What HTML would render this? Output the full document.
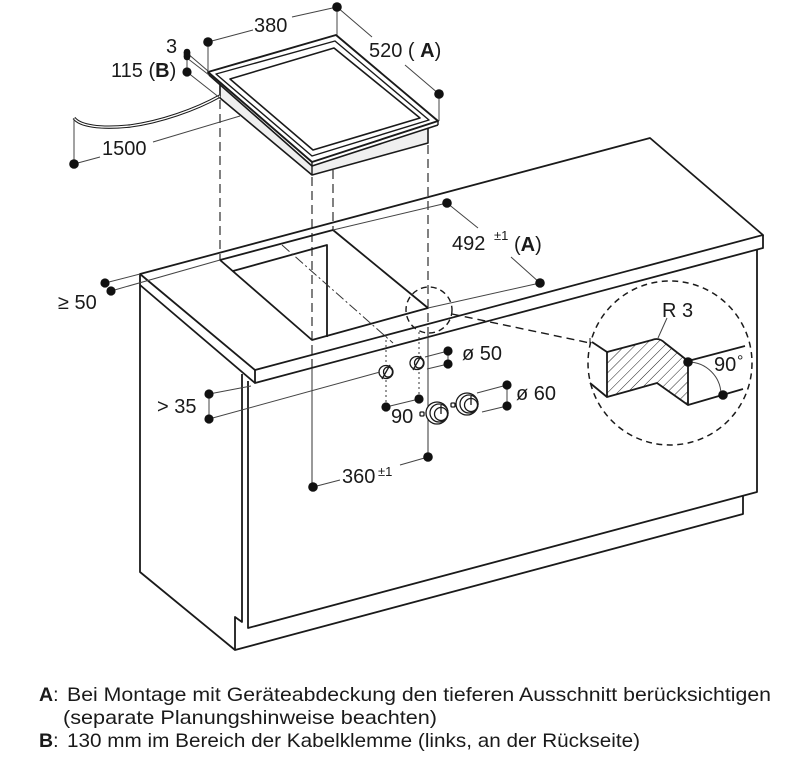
<!DOCTYPE html>
<html><head><meta charset="utf-8"><style>
html,body{margin:0;padding:0;background:#fff;}
svg{display:block;}
text{font-family:"Liberation Sans",Arial,sans-serif;fill:#1a1a1a;}
</style></head><body>
<svg width="795" height="761" viewBox="0 0 795 761" xmlns="http://www.w3.org/2000/svg">
<defs>
<pattern id="h" width="7" height="7" patternUnits="userSpaceOnUse" patternTransform="rotate(45)">
<line x1="0" y1="0" x2="0" y2="7" stroke="#222" stroke-width="1"/>
</pattern>
</defs>
<rect width="795" height="761" fill="#fff"/>

<!-- ================= HOB ================= -->
<g stroke="#1a1a1a" fill="none" stroke-linejoin="round">
  <polygon points="220,84 312,166 428,128 428,143 312,175 220,98" fill="#efefef" stroke="none"/>
  <path d="M220,84 L220,98 L312,175 L428,143 L428,128" stroke-width="1.6"/>
  <path d="M312,166 L312,175" stroke-width="1.4"/>
  <path d="M209,75 L312,166 L438,125" stroke-width="1.6"/>
  <path d="M438,121 L438,125 M312,162 L312,166 M208,72 L209,75" stroke-width="1.4"/>
  <polygon points="208,72 336,35 438,121 312,162" stroke-width="1.9" fill="#fff"/>
  <polygon points="216,74 335,41 429,120 312,156" stroke-width="1.4"/>
  <polygon points="230,79 334,48 420,118 313,150" stroke-width="1.6"/>
</g>
<!-- cable -->
<path d="M74,118 C80,126 100,129 130,126 C160,122 195,110 220,96" stroke="#1a1a1a" stroke-width="3.4" fill="none"/>
<path d="M74,118 C80,126 100,129 130,126 C160,122 195,110 220,96" stroke="#fff" stroke-width="1.3" fill="none"/>

<!-- ================= COUNTERTOP & CABINET ================= -->
<g stroke="#1a1a1a" fill="none" stroke-width="1.8" stroke-linejoin="round">
  <path d="M140,274 L650,138 L763,235 L255,370 Z"/>
  <path d="M763,235 L763,248 L255,383 L255,370"/>
  <path d="M140,285 L255,383"/>
  <path d="M140,274 L140,572 L235,650"/>
  <path d="M242,374 L242,622 L235,617 L235,650 L743,514 L743,496"/>
  <path d="M248,381 L248,628 L757,492 L757,250"/>
  <path d="M220,260 L333,230 L428,308 L312,340 Z"/>
  <path d="M233,271 L327,245 L327,337"/>
</g>

<!-- dashed projection lines -->
<g stroke="#1a1a1a" stroke-width="1.1" fill="none" stroke-dasharray="9 5">
  <path d="M220,100 L220,260"/>
  <path d="M312,177 L312,368"/>
  <path d="M333,170 L333,230"/>
  <path d="M428,145 L428,337"/>
</g>
<g stroke="#333" stroke-width="1" fill="none">
  <path d="M312,368 L312,487"/>
  <path d="M428,337 L428,457"/>
</g>
<path d="M282,245 L393,343" stroke="#333" stroke-width="1" stroke-dasharray="10 3 2 3" fill="none"/>
<g stroke="#333" stroke-width="1" stroke-dasharray="2 3" fill="none">
  <path d="M386,335 L386,407"/>
  <path d="M419,332 L419,399"/>
</g>

<circle cx="429" cy="310" r="23" stroke="#1a1a1a" stroke-width="1.4" fill="none" stroke-dasharray="6 4"/>
<path d="M452,314 L590,343" stroke="#1a1a1a" stroke-width="1.4" fill="none" stroke-dasharray="8 5"/>
<path d="M590,338 L590,348" stroke="#1a1a1a" stroke-width="1" fill="none"/>

<!-- ================= DETAIL ================= -->
<circle cx="670" cy="363" r="82" stroke="#1a1a1a" stroke-width="1.5" fill="#fff" stroke-dasharray="6 4.5"/>
<path d="M607,352 L652,340 Q659,337 665,343 L688,361 L688,405 L657,383 L607,397 Z" fill="url(#h)" stroke="#1a1a1a" stroke-width="1.8" stroke-linejoin="round"/>
<g stroke="#1a1a1a" stroke-width="1.8" fill="none">
  <path d="M592,342 L607,352"/>
  <path d="M590,383 L607,397"/>
  <path d="M688,361 L745,346"/>
  <path d="M688,405 L743,389"/>
</g>
<path d="M688,362 A33,33 0 0 1 721,395" stroke="#444" stroke-width="1" fill="none"/>
<path d="M667,318 L658,338" stroke="#444" stroke-width="1" fill="none"/>

<!-- ================= HOLES ================= -->
<g stroke="#1a1a1a" fill="#fff" stroke-width="1.3">
  <ellipse cx="386" cy="372" rx="7" ry="6.5"/>
  <ellipse cx="388" cy="372" rx="4.5" ry="5"/>
  <path d="M382,379 L390,365" fill="none"/>
  <ellipse cx="417" cy="363" rx="7" ry="6.5"/>
  <ellipse cx="419" cy="363" rx="4.5" ry="5"/>
  <path d="M413,370 L421,356" fill="none"/>
  <rect x="420" y="412" width="4" height="4" rx="1"/>
  <circle cx="437" cy="413" r="11"/>
  <circle cx="439" cy="413" r="9"/>
  <circle cx="441" cy="414" r="6.5"/>
  <path d="M441,414 L441,405" fill="none"/>
  <rect x="451" y="403" width="4" height="4" rx="1"/>
  <circle cx="467" cy="404" r="11"/>
  <circle cx="469" cy="404" r="9"/>
  <circle cx="471" cy="405" r="6.5"/>
  <path d="M471,405 L471,396" fill="none"/>
</g>

<!-- ================= DIMENSION LINES ================= -->
<g stroke="#444" stroke-width="1" fill="none">
  <path d="M208,42 L208,72 M337,7 L337,35"/>
  <path d="M208,42 L253,30 M292,17 L337,7"/>
  <path d="M337,7 L372,37 M405,65 L439,94 M439,94 L439,121"/>
  <path d="M187,53 L187,72"/>
  <path d="M187,53 L208,71 M187,58 L209,75"/>
  <path d="M187,72 L220,98"/>
  <path d="M74,118 L74,164 M74,164 L100,157 M153,142 L240,116"/>
  <path d="M105,283 L140,274 M111,291 L220,260"/>
  <path d="M333,230 L447,203 M428,308 L540,283"/>
  <path d="M447,203 L478,228 M511,257 L540,283"/>
  <path d="M209,394 L209,419 M209,394 L251,386 M209,419 L380,372"/>
  <path d="M425,357 L448,351 M427,369 L448,364 M448,351 L448,364"/>
  <path d="M386,407 L419,399"/>
  <path d="M477,393 L507,385 M482,412 L507,406 M507,385 L507,406"/>
  <path d="M313,487 L340,480 M400,465 L428,457"/>
</g>

<g fill="#111">
  <circle cx="337" cy="7" r="4.8"/>
  <circle cx="208" cy="42" r="4.8"/>
  <circle cx="439" cy="94" r="4.8"/>
  <circle cx="187" cy="52" r="3.3"/>
  <circle cx="187" cy="57" r="3.3"/>
  <rect x="183.7" y="52" width="6.6" height="5"/>
  <circle cx="187" cy="72" r="4.6"/>
  <circle cx="74" cy="164" r="4.8"/>
  <circle cx="105" cy="283" r="4.6"/>
  <circle cx="111" cy="291" r="4.6"/>
  <circle cx="447" cy="203" r="4.8"/>
  <circle cx="540" cy="283" r="4.8"/>
  <circle cx="448" cy="351" r="4.6"/>
  <circle cx="448" cy="364" r="4.6"/>
  <circle cx="209" cy="394" r="4.6"/>
  <circle cx="209" cy="419" r="4.6"/>
  <circle cx="386" cy="407" r="4.6"/>
  <circle cx="419" cy="399" r="4.6"/>
  <circle cx="507" cy="385" r="4.6"/>
  <circle cx="507" cy="406" r="4.6"/>
  <circle cx="313" cy="487" r="4.8"/>
  <circle cx="428" cy="457" r="4.8"/>
  <circle cx="688" cy="362" r="4.8"/>
  <circle cx="723" cy="395" r="4.8"/>
</g>

<!-- ================= LABELS ================= -->
<g font-size="20">
  <text x="254" y="32">380</text>
  <text x="369" y="57">520 ( <tspan font-weight="bold">A</tspan>)</text>
  <text x="166" y="53">3</text>
  <text x="111" y="77">115 (<tspan font-weight="bold">B</tspan>)</text>
  <text x="102" y="155">1500</text>
  <text x="58" y="309">≥ 50</text>
  <text x="452" y="250">492</text>
  <text x="494" y="240" font-size="13">±1</text>
  <text x="514" y="251">(<tspan font-weight="bold">A</tspan>)</text>
  <text x="157" y="413">&gt; 35</text>
  <text x="462" y="360">ø 50</text>
  <text x="516" y="400">ø 60</text>
  <text x="391" y="423">90</text>
  <text x="342" y="483">360</text>
  <text x="378" y="476" font-size="13">±1</text>
  <text x="662" y="317">R 3</text>
  <text x="714" y="371">90</text>
  <text x="737" y="366" font-size="16">°</text>
</g>

<!-- ================= LEGEND ================= -->
<g font-size="19.5">
  <text x="39" y="701"><tspan font-weight="bold">A</tspan>:</text>
  <text x="67" y="701" textLength="704" lengthAdjust="spacingAndGlyphs">Bei Montage mit Geräteabdeckung den tieferen Ausschnitt berücksichtigen</text>
  <text x="63" y="724" textLength="374" lengthAdjust="spacingAndGlyphs">(separate Planungshinweise beachten)</text>
  <text x="39" y="747"><tspan font-weight="bold">B</tspan>:</text>
  <text x="67" y="747" textLength="573" lengthAdjust="spacingAndGlyphs">130 mm im Bereich der Kabelklemme (links, an der Rückseite)</text>
</g>
</svg>
</body></html>
